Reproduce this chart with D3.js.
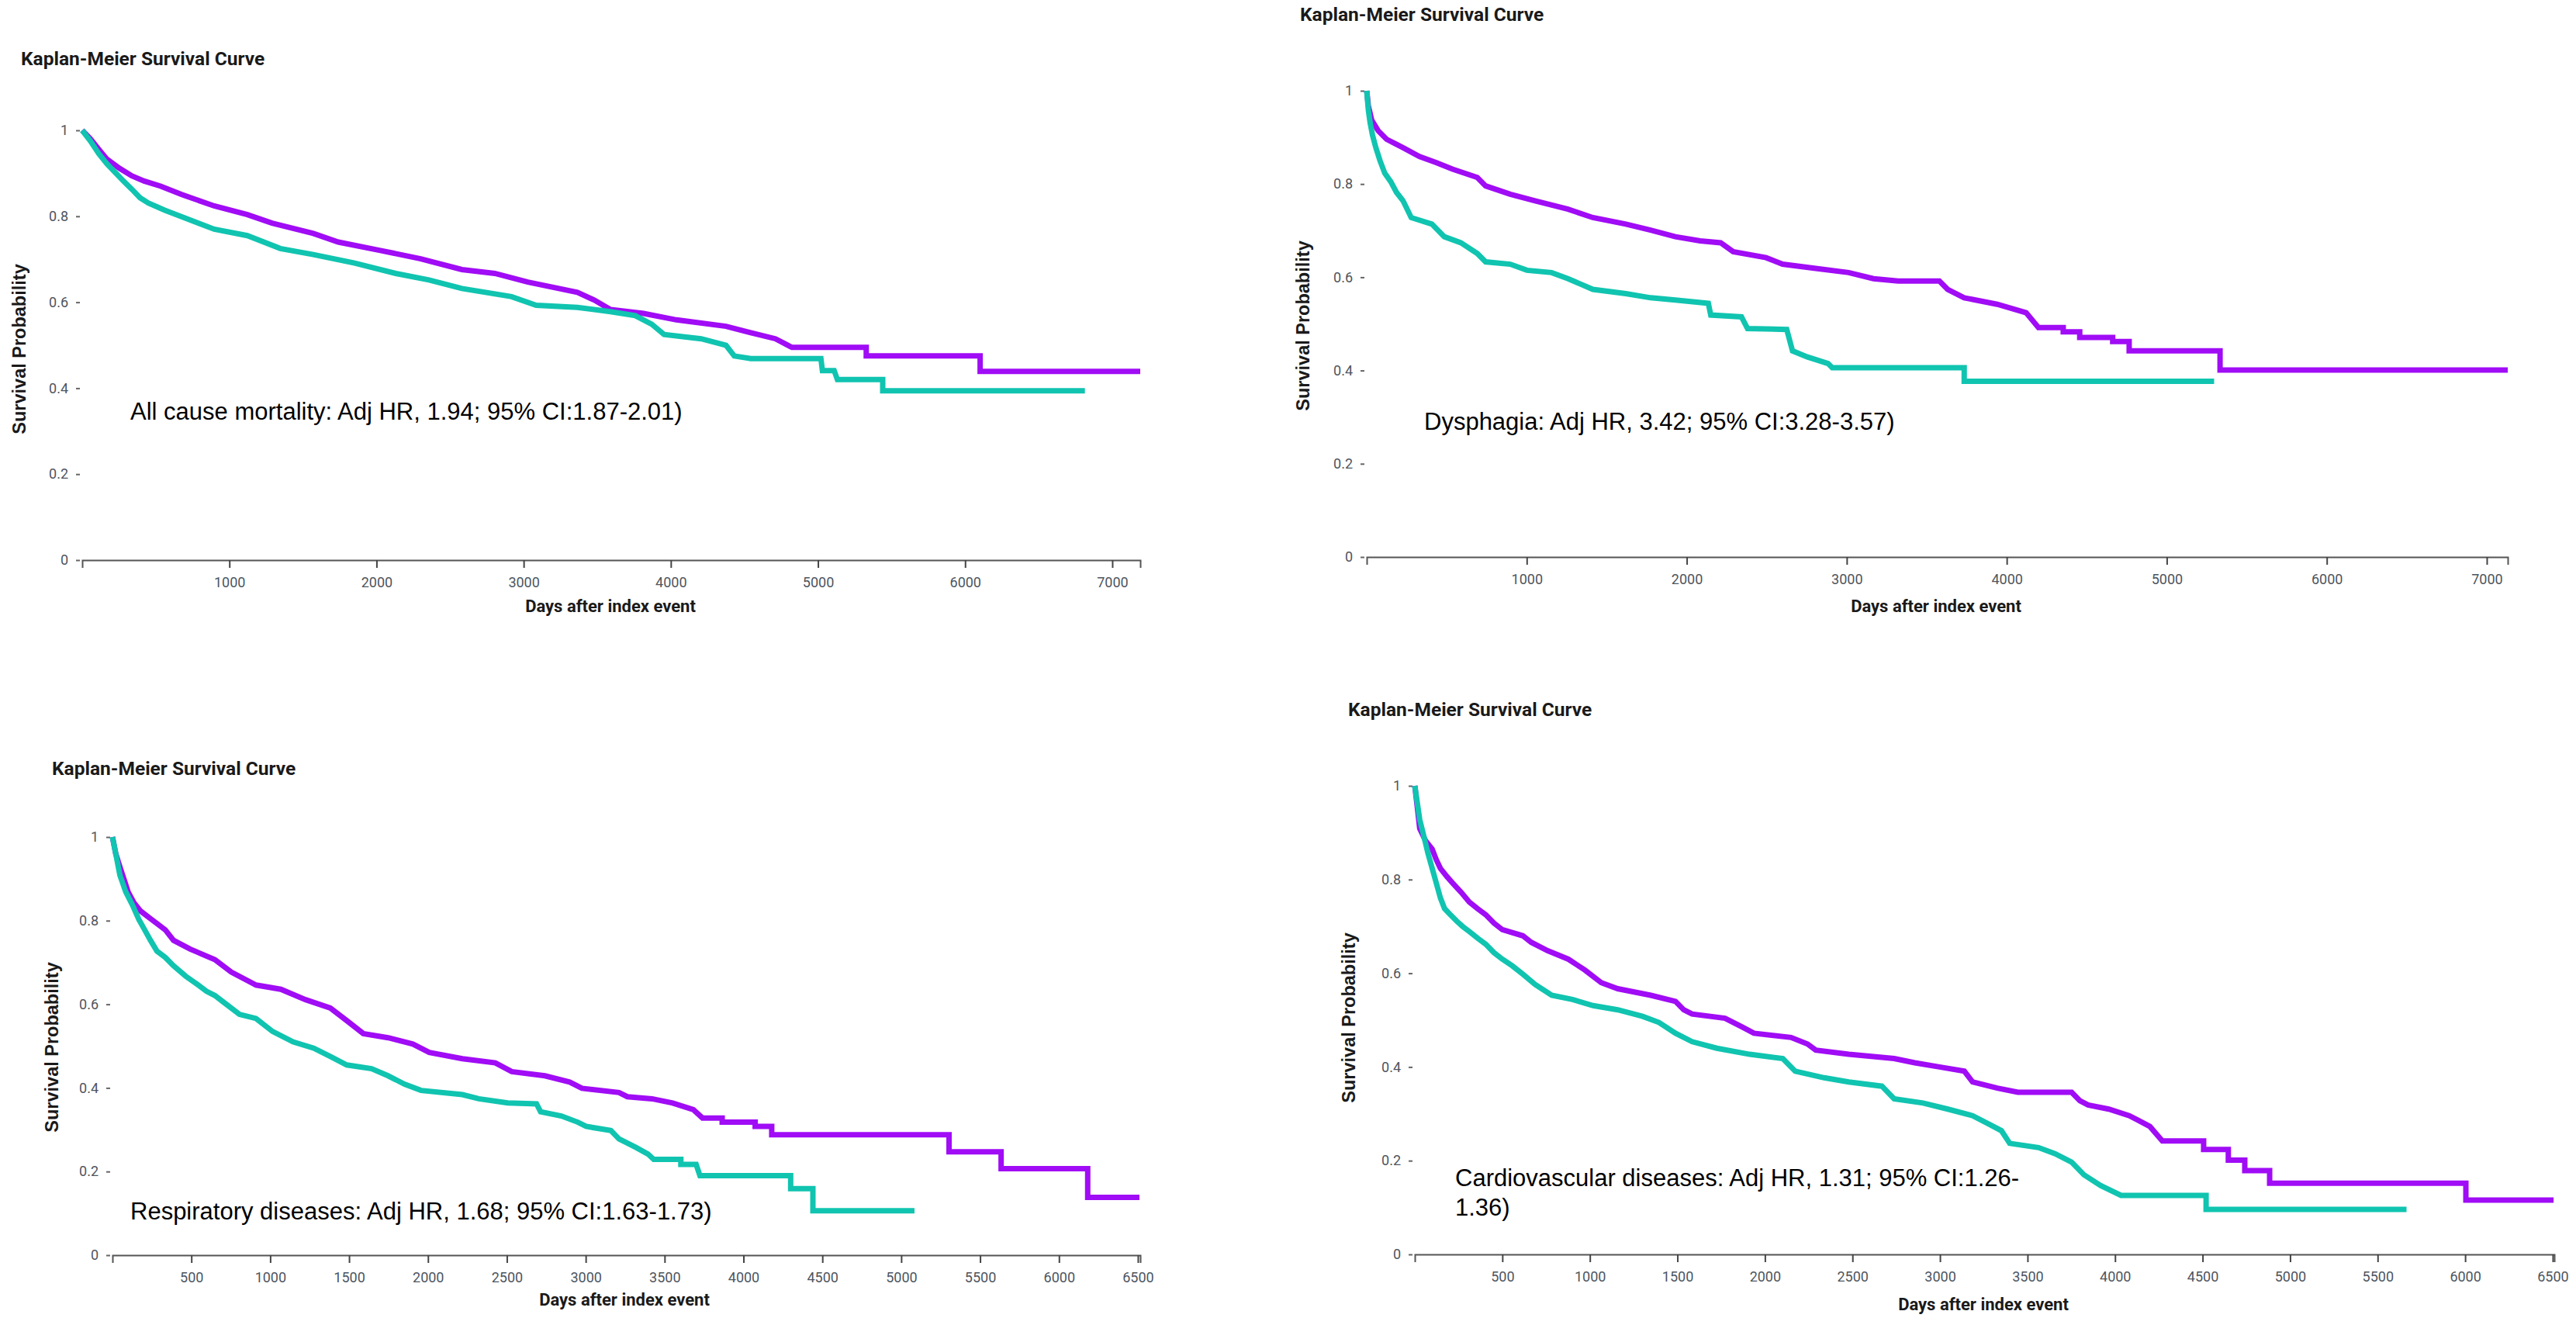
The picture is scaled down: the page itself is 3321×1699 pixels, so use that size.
<!DOCTYPE html>
<html>
<head>
<meta charset="utf-8">
<script src="https://cdn.jsdelivr.net/npm/d3@7"></script>
<style>
  body { margin: 0; background: #fff; }
  .tick text { font-family: Roboto, sans-serif; font-size: 18px; fill: #4d5560; }
  .tick line { stroke: #444; stroke-width: 2px; }
  .domain { stroke: #555; stroke-width: 2px; }
  .chart-title { font-family: Roboto, sans-serif; font-weight: 700; font-size: 24.5px; fill: #1a1a1a; }
  .axis-label { font-family: Roboto, sans-serif; font-weight: 700; font-size: 22px; fill: #1a1a1a; }
  .y-label { font-family: "Liberation Sans", Arial, sans-serif; font-weight: 700; font-size: 23.5px; fill: #1a1a1a; }
  .annot { font-family: "Liberation Sans", Arial, sans-serif; font-size: 31px; fill: #000; }
  .km-path { fill: none; stroke-width: 7px; stroke-linejoin: miter; }
</style>
</head>
<body>
<svg id="svg" width="3321" height="1699"></svg>
<script>
const svg = d3.select("#svg");

// ---- data (days after index event, survival probability) ----
var titleText = "Kaplan-Meier Survival Curve";
var xAxisLabel = "Days after index event";
var yAxisLabel = "Survival Probability";

var yTickValues = [0, 0.2, 0.4, 0.6, 0.8, 1];
var yTickLabels = ["0", "0.2", "0.4", "0.6", "0.8", "1"];
var xTicks7000 = [1000, 2000, 3000, 4000, 5000, 6000, 7000];
var xTicks6500 = [500, 1000, 1500, 2000, 2500, 3000, 3500, 4000, 4500, 5000, 5500, 6000, 6500];

// all cause mortality
var allCausePurple = [[0,1],[56,0.98],[112,0.956],[168,0.933],[252,0.912],[337,0.894],[421,0.882],[533,0.87],
  [673,0.851],[897,0.824],[1122,0.804],[1290,0.784],[1570,0.76],[1740,0.74],[2019,0.721],[2300,0.701],
  [2580,0.676],[2804,0.667],[3029,0.647],[3365,0.623],[3480,0.605],[3590,0.583],[3814,0.574],[4038,0.559],
  [4375,0.544],[4543,0.529],[4711,0.515],[4823,0.495],[5328,0.495],[5328,0.475],[6102,0.475],[6102,0.439],
  [7190,0.439]];
var allCauseTeal = [[0,1],[56,0.975],[112,0.946],[168,0.922],[224,0.902],[280,0.882],[337,0.863],[393,0.843],
  [449,0.831],[561,0.814],[729,0.792],[897,0.77],[1122,0.755],[1346,0.725],[1570,0.711],[1851,0.691],
  [2131,0.667],[2356,0.652],[2580,0.632],[2917,0.613],[3085,0.593],[3365,0.588],[3590,0.578],[3758,0.569],
  [3870,0.549],[3954,0.525],[4206,0.515],[4375,0.5],[4431,0.475],[4543,0.469],[5020,0.469],[5030,0.441],
  [5110,0.441],[5132,0.42],[5440,0.42],[5440,0.394],[6814,0.394]];

// dysphagia
var dysphagiaPurple = [[0,1],[10,0.968],[31,0.937],[72,0.914],[124,0.896],[175,0.887],[227,0.878],[330,0.859],
  [433,0.846],[536,0.832],[691,0.814],[743,0.796],[897,0.778],[1052,0.764],[1258,0.746],[1413,0.728],
  [1619,0.714],[1774,0.701],[1929,0.687],[2084,0.678],[2212,0.674],[2290,0.655],[2496,0.642],[2599,0.628],
  [2806,0.619],[3012,0.61],[3167,0.597],[3321,0.592],[3579,0.592],[3631,0.574],[3734,0.556],[3940,0.542],
  [4121,0.524],[4198,0.492],[4353,0.492],[4353,0.483],[4456,0.483],[4456,0.471],[4662,0.471],[4662,0.462],
  [4765,0.462],[4765,0.442],[5333,0.442],[5333,0.401],[7131,0.401]];
var dysphagiaTeal = [[0,1],[10,0.959],[21,0.932],[36,0.905],[57,0.878],[83,0.85],[113,0.823],[150,0.805],
  [186,0.782],[227,0.764],[278,0.728],[407,0.714],[485,0.687],[588,0.674],[691,0.651],[743,0.633],
  [897,0.628],[1001,0.615],[1155,0.61],[1258,0.597],[1413,0.574],[1619,0.565],[1774,0.556],[1929,0.551],
  [2135,0.544],[2150,0.519],[2342,0.515],[2380,0.49],[2625,0.488],[2661,0.442],[2754,0.429],[2883,0.415],
  [2909,0.406],[3734,0.406],[3734,0.377],[5296,0.377]];

// respiratory diseases
var respiratoryPurple = [[0,1],[21,0.96],[47,0.929],[73,0.899],[99,0.869],[136,0.843],[178,0.823],[230,0.808],
  [282,0.793],[335,0.778],[387,0.753],[492,0.732],[649,0.707],[753,0.677],[910,0.646],[1067,0.636],
  [1224,0.611],[1381,0.591],[1485,0.561],[1590,0.53],[1747,0.52],[1904,0.505],[2008,0.485],[2218,0.47],
  [2427,0.46],[2531,0.439],[2741,0.429],[2898,0.414],[2976,0.399],[3211,0.389],[3264,0.379],[3420,0.374],
  [3551,0.364],[3682,0.348],[3740,0.328],[3865,0.328],[3865,0.318],[4074,0.318],[4074,0.308],[4179,0.308],
  [4179,0.288],[5303,0.288],[5303,0.247],[5633,0.247],[5633,0.207],[6182,0.207],[6182,0.138],[6510,0.138]];
var respiratoryTeal = [[0,1],[21,0.96],[47,0.909],[84,0.869],[126,0.838],[167,0.803],[204,0.778],[241,0.753],
  [282,0.727],[335,0.712],[387,0.692],[465,0.667],[544,0.646],[596,0.631],[649,0.621],[701,0.606],
  [805,0.576],[910,0.566],[1015,0.535],[1145,0.51],[1276,0.495],[1381,0.475],[1485,0.455],[1642,0.446],
  [1747,0.429],[1851,0.409],[1956,0.394],[2218,0.384],[2322,0.374],[2505,0.364],[2688,0.362],[2714,0.343],
  [2845,0.333],[2950,0.318],[3002,0.308],[3159,0.298],[3211,0.278],[3316,0.258],[3394,0.242],[3431,0.229],
  [3603,0.229],[3603,0.217],[3700,0.217],[3724,0.19],[4299,0.19],[4299,0.159],[4440,0.159],[4440,0.106],
  [5084,0.106]];

// cardiovascular diseases
var cardioPurple = [[0,1],[14,0.955],[28,0.909],[61,0.883],[99,0.865],[123,0.842],[146,0.824],[184,0.806],
  [217,0.792],[264,0.773],[311,0.752],[358,0.738],[405,0.725],[452,0.707],[500,0.693],[617,0.68],
  [665,0.666],[759,0.648],[877,0.63],[971,0.607],[1065,0.58],[1159,0.567],[1348,0.553],[1489,0.54],
  [1536,0.522],[1584,0.513],[1772,0.504],[1866,0.486],[1937,0.472],[2149,0.463],[2243,0.449],[2290,0.436],
  [2479,0.427],[2738,0.418],[2856,0.409],[2997,0.4],[3139,0.391],[3186,0.368],[3327,0.355],[3445,0.346],
  [3752,0.346],[3799,0.328],[3846,0.319],[3964,0.31],[4081,0.296],[4128,0.287],[4199,0.273],[4270,0.242],
  [4506,0.242],[4506,0.224],[4647,0.224],[4647,0.201],[4741,0.201],[4741,0.179],[4883,0.179],[4883,0.152],
  [6004,0.152],[6004,0.116],[6505,0.116]];
var cardioTeal = [[0,1],[14,0.964],[28,0.928],[52,0.892],[75,0.856],[99,0.824],[123,0.792],[146,0.761],
  [170,0.738],[203,0.725],[240,0.711],[273,0.7],[311,0.689],[358,0.675],[405,0.662],[452,0.644],
  [500,0.63],[556,0.616],[617,0.598],[688,0.576],[782,0.553],[900,0.544],[1018,0.531],[1159,0.522],
  [1301,0.508],[1395,0.495],[1489,0.472],[1584,0.454],[1725,0.44],[1913,0.427],[2102,0.418],[2173,0.391],
  [2338,0.377],[2479,0.368],[2668,0.359],[2738,0.332],[2903,0.323],[3045,0.31],[3186,0.296],[3280,0.278],
  [3351,0.264],[3398,0.237],[3563,0.228],[3657,0.215],[3752,0.197],[3822,0.17],[3917,0.147],[4034,0.126],
  [4520,0.126],[4520,0.096],[5665,0.096]];

var annotAllCause = ["All cause mortality: Adj HR, 1.94; 95% CI:1.87-2.01)"];
var annotDysphagia = ["Dysphagia: Adj HR, 3.42; 95% CI:3.28-3.57)"];
var annotRespiratory = ["Respiratory diseases: Adj HR, 1.68; 95% CI:1.63-1.73)"];
var annotCardio = ["Cardiovascular diseases: Adj HR, 1.31; 95% CI:1.26-", "1.36)"];

var purple = "#a00cf5";
var teal = "#10c4b0";

// ---- layout of the four panels (pixels) ----
var panels = [
  { x0: 106, x1: 1470, xMax: 7190, yTop: 168, yBot: 722, xTicks: xTicks7000,
    title: [27, 84], annot: [168, 541], annotLines: annotAllCause, xLab: [787, 789], yLab: [33, 450],
    series: [allCausePurple, allCauseTeal] },
  { x0: 1762, x1: 3233, xMax: 7131, yTop: 117, yBot: 718, xTicks: xTicks7000,
    title: [1676, 27], annot: [1836, 554], annotLines: annotDysphagia, xLab: [2496, 789], yLab: [1688, 420],
    series: [dysphagiaPurple, dysphagiaTeal] },
  { x0: 145, x1: 1470, xMax: 6515, yTop: 1079, yBot: 1618, xTicks: xTicks6500,
    title: [67, 999], annot: [168, 1572], annotLines: annotRespiratory, xLab: [805, 1683], yLab: [75, 1350],
    series: [respiratoryPurple, respiratoryTeal] },
  { x0: 1824, x1: 3293, xMax: 6509, yTop: 1013, yBot: 1617, xTicks: xTicks6500,
    title: [1738, 923], annot: [1876, 1529], annotLines: annotCardio, xLab: [2557, 1689], yLab: [1747, 1312],
    series: [cardioPurple, cardioTeal] }
];

var colours = [purple, teal];

var render = p => {
  var xScale = d3.scaleLinear()
    .domain([0, p.xMax])
    .range([p.x0, p.x1]);

  var yScale = d3.scaleLinear()
    .domain([0, 1])
    .range([p.yBot, p.yTop]);

  var g = svg.append("g");

  g.append("text")
    .attr("class", "chart-title")
    .attr("x", p.title[0])
    .attr("y", p.title[1])
    .text(titleText);

  // y axis: only short dashes + labels, no line
  var yAxis = d3.axisLeft(yScale)
    .tickValues(yTickValues)
    .tickFormat((d, i) => yTickLabels[i])
    .tickSize(5)
    .tickPadding(10);

  var yAxisG = g.append("g")
    .attr("transform", `translate(${p.x0 - 3},0)`)
    .call(yAxis);
  yAxisG.select(".domain").remove();
  yAxisG.selectAll(".tick line").style("stroke", "#666");

  var xAxis = d3.axisBottom(xScale)
    .tickValues(p.xTicks)
    .tickFormat(d3.format("d"))
    .tickSize(10)
    .tickSizeOuter(10)
    .tickPadding(12);

  g.append("g")
    .attr("transform", `translate(0,${p.yBot})`)
    .call(xAxis);

  g.append("text")
    .attr("class", "axis-label")
    .attr("x", p.xLab[0])
    .attr("y", p.xLab[1])
    .attr("text-anchor", "middle")
    .text(xAxisLabel);

  g.append("text")
    .attr("class", "y-label")
    .attr("transform", `translate(${p.yLab[0]},${p.yLab[1]}) rotate(-90)`)
    .attr("text-anchor", "middle")
    .text(yAxisLabel);

  // curves: points, plateaus given explicitly
  var lineGenerator = d3.line()
    .x(d => xScale(d[0]))
    .y(d => yScale(d[1]))
    .curve(d3.curveLinear);

  g.selectAll(".km-path").data(p.series)
    .enter().append("path")
    .attr("class", "km-path")
    .attr("d", d => lineGenerator(d))
    .attr("stroke", (d, i) => colours[i]);

  g.selectAll(".annot").data(p.annotLines)
    .enter().append("text")
    .attr("class", "annot")
    .attr("x", p.annot[0])
    .attr("y", (d, i) => p.annot[1] + i * 38)
    .text(d => d);
};

panels.forEach(render);
</script>
</body>
</html>
